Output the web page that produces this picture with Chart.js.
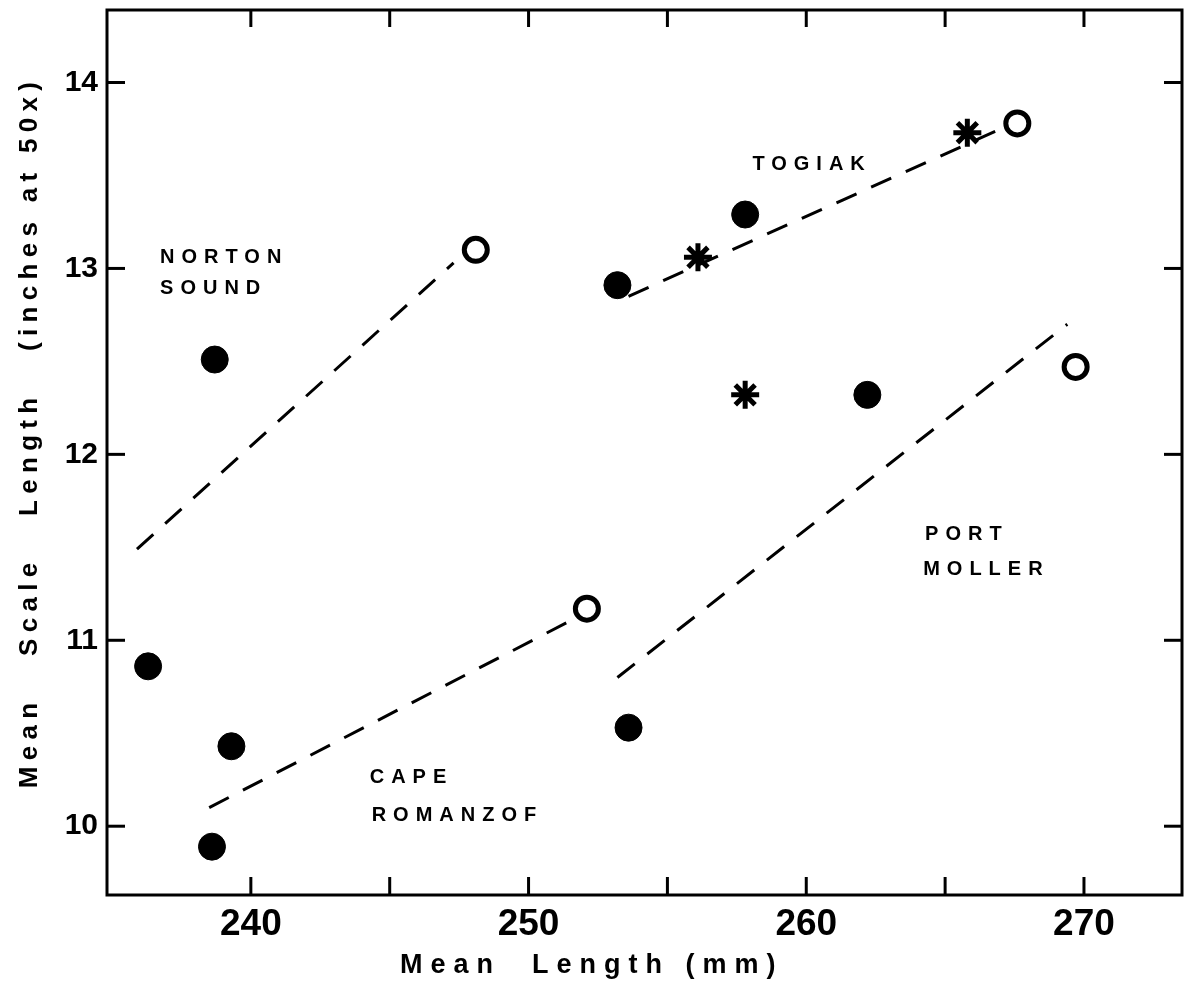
<!DOCTYPE html>
<html>
<head>
<meta charset="utf-8">
<script src="https://cdn.jsdelivr.net/npm/chart.js@4.4.1/dist/chart.umd.min.js"></script>
<style>
  html, body { margin: 0; padding: 0; background: #fff; }
  #wrap { width: 1186px; height: 991px; position: relative; }
</style>
</head>
<body>
<div id="wrap"><canvas id="c"></canvas></div>
<script>
// Sample means: length (mm) vs. scale length (inches at 50x)
const filledX = [236.3, 238.7, 239.3, 238.6, 253.2, 257.8, 262.2, 253.6];
const filledY = [10.86, 12.51, 10.43, 9.89, 12.91, 13.29, 12.32, 10.53];
const openX = [248.1, 252.1, 267.6, 269.7];
const openY = [13.10, 11.17, 13.78, 12.47];
const starX = [256.1, 257.8, 265.8];
const starY = [13.06, 12.32, 13.73];

// Fitted trend lines per area (end points)
const nortonLineX = [235.9, 247.3];
const nortonLineY = [11.49, 13.03];
const capeLineX = [238.5, 251.7];
const capeLineY = [10.10, 11.12];
const mollerLineX = [253.2, 269.4];
const mollerLineY = [10.80, 12.70];
const togiakLineX = [253.6, 267.0];
const togiakLineY = [12.85, 13.75];

// Axis ticks
const xTicks = [240, 245, 250, 255, 260, 265, 270];
const xTickLabels = ['240', '', '250', '', '260', '', '270'];
const yTicks = [10, 11, 12, 13, 14];
const yTickLabels = ['10', '11', '12', '13', '14'];

// Area names, anchored in data units
const areaNames = ['NORTON', 'SOUND', 'TOGIAK', 'CAPE', 'ROMANZOF', 'PORT', 'MOLLER'];
const areaX = [236.73, 236.73, 258.06, 244.28, 244.35, 264.28, 264.21];
const areaY = [13.06, 12.89, 13.56, 10.26, 10.06, 11.57, 11.38];

const xTitle = 'Mean  Length (mm)';
const yTitle = 'Mean   Scale   Length   (inches at 50x)';

function pts(xs, ys) { return xs.map((x, i) => ({ x: x, y: ys[i] })); }

const FONT = '"Liberation Sans", Arial, Helvetica, sans-serif';

function trend(xs, ys) {
  return {
    type: 'line',
    data: pts(xs, ys),
    showLine: true,
    borderColor: '#000',
    borderWidth: 3,
    borderDash: [22, 16],
    pointRadius: 0,
    fill: false
  };
}

// keep the plot box fixed: no extra room reserved for edge labels
function noEdgePadding(s) {
  s.paddingTop = 0; s.paddingBottom = 0; s.paddingLeft = 0; s.paddingRight = 0;
}

const decor = {
  id: 'decor',
  beforeDraw(chart) {
    const { ctx, width, height } = chart;
    ctx.save();
    ctx.fillStyle = '#fff';
    ctx.fillRect(0, 0, width, height);
    ctx.restore();
  },
  afterDraw(chart) {
    const { ctx, chartArea: a, scales } = chart;
    const xs = scales.x, ys = scales.y;
    const seg = (x1, y1, x2, y2) => { ctx.beginPath(); ctx.moveTo(x1, y1); ctx.lineTo(x2, y2); ctx.stroke(); };
    ctx.save();
    ctx.strokeStyle = '#000';
    ctx.lineWidth = 3;
    ctx.lineCap = 'square';
    ctx.strokeRect(a.left, a.top, a.right - a.left, a.bottom - a.top);

    // inward tick marks on all four sides
    ctx.lineCap = 'butt';
    xs.ticks.forEach(t => {
      const px = xs.getPixelForValue(t.value);
      seg(px, a.bottom, px, a.bottom - 18);
      seg(px, a.top, px, a.top + 17);
    });
    ys.ticks.forEach(t => {
      const py = ys.getPixelForValue(t.value);
      seg(a.left, py, a.left + 18, py);
      seg(a.right, py, a.right - 18, py);
    });

    // area names
    ctx.fillStyle = '#000';
    ctx.font = 'bold 20px ' + FONT;
    ctx.letterSpacing = '7px';
    ctx.textAlign = 'left';
    ctx.textBaseline = 'middle';
    areaNames.forEach((n, i) => {
      ctx.fillText(n, xs.getPixelForValue(areaX[i]), ys.getPixelForValue(areaY[i]));
    });

    // axis titles
    ctx.font = 'bold 27px ' + FONT;
    ctx.letterSpacing = '8px';
    ctx.textBaseline = 'alphabetic';
    ctx.textAlign = 'left';
    ctx.fillText(xTitle, 400, 973);

    ctx.font = 'bold 26px ' + FONT;
    ctx.letterSpacing = '6.3px';
    ctx.translate(37, 432);
    ctx.rotate(-Math.PI / 2);
    ctx.textAlign = 'center';
    ctx.fillText(yTitle, 0, 0);
    ctx.restore();
  }
};

new Chart(document.getElementById('c'), {
  type: 'scatter',
  data: {
    datasets: [
      {
        data: pts(filledX, filledY),
        pointStyle: 'circle',
        pointRadius: 13.5,
        backgroundColor: '#000',
        borderColor: '#000',
        borderWidth: 1
      },
      {
        data: pts(openX, openY),
        pointStyle: 'circle',
        pointRadius: 11.5,
        backgroundColor: '#fff',
        borderColor: '#000',
        borderWidth: 5
      },
      {
        data: pts(starX, starY),
        pointStyle: 'star',
        pointRadius: 14,
        backgroundColor: '#000',
        borderColor: '#000',
        borderWidth: 5
      },
      trend(nortonLineX, nortonLineY),
      trend(capeLineX, capeLineY),
      trend(mollerLineX, mollerLineY),
      trend(togiakLineX, togiakLineY)
    ]
  },
  options: {
    responsive: true,
    maintainAspectRatio: false,
    devicePixelRatio: 1,
    animation: false,
    events: [],
    layout: { autoPadding: false, padding: { top: 10, right: 4, left: 0, bottom: 0 } },
    plugins: { legend: { display: false }, tooltip: { enabled: false } },
    scales: {
      x: {
        type: 'linear',
        min: 234.82,
        max: 273.53,
        afterBuildTicks: s => { s.ticks = xTicks.map(v => ({ value: v })); },
        afterFit: s => { s.height = 96; noEdgePadding(s); },
        grid: { display: false, drawTicks: false },
        border: { display: false },
        ticks: {
          autoSkip: false,
          maxRotation: 0,
          padding: 8,
          color: '#000',
          font: { family: FONT, size: 37, weight: 'bold' },
          callback: v => { const i = xTicks.indexOf(v); return i >= 0 ? xTickLabels[i] : ''; }
        }
      },
      y: {
        type: 'linear',
        min: 9.63,
        max: 14.39,
        afterBuildTicks: s => { s.ticks = yTicks.map(v => ({ value: v })); },
        afterFit: s => { s.width = 107; noEdgePadding(s); },
        grid: { display: false, drawTicks: false },
        border: { display: false },
        ticks: {
          autoSkip: false,
          padding: 9,
          color: '#000',
          font: { family: FONT, size: 30, weight: 'bold' },
          callback: v => { const i = yTicks.indexOf(v); return i >= 0 ? yTickLabels[i] : ''; }
        }
      }
    }
  },
  plugins: [decor]
});
</script>
</body>
</html>
